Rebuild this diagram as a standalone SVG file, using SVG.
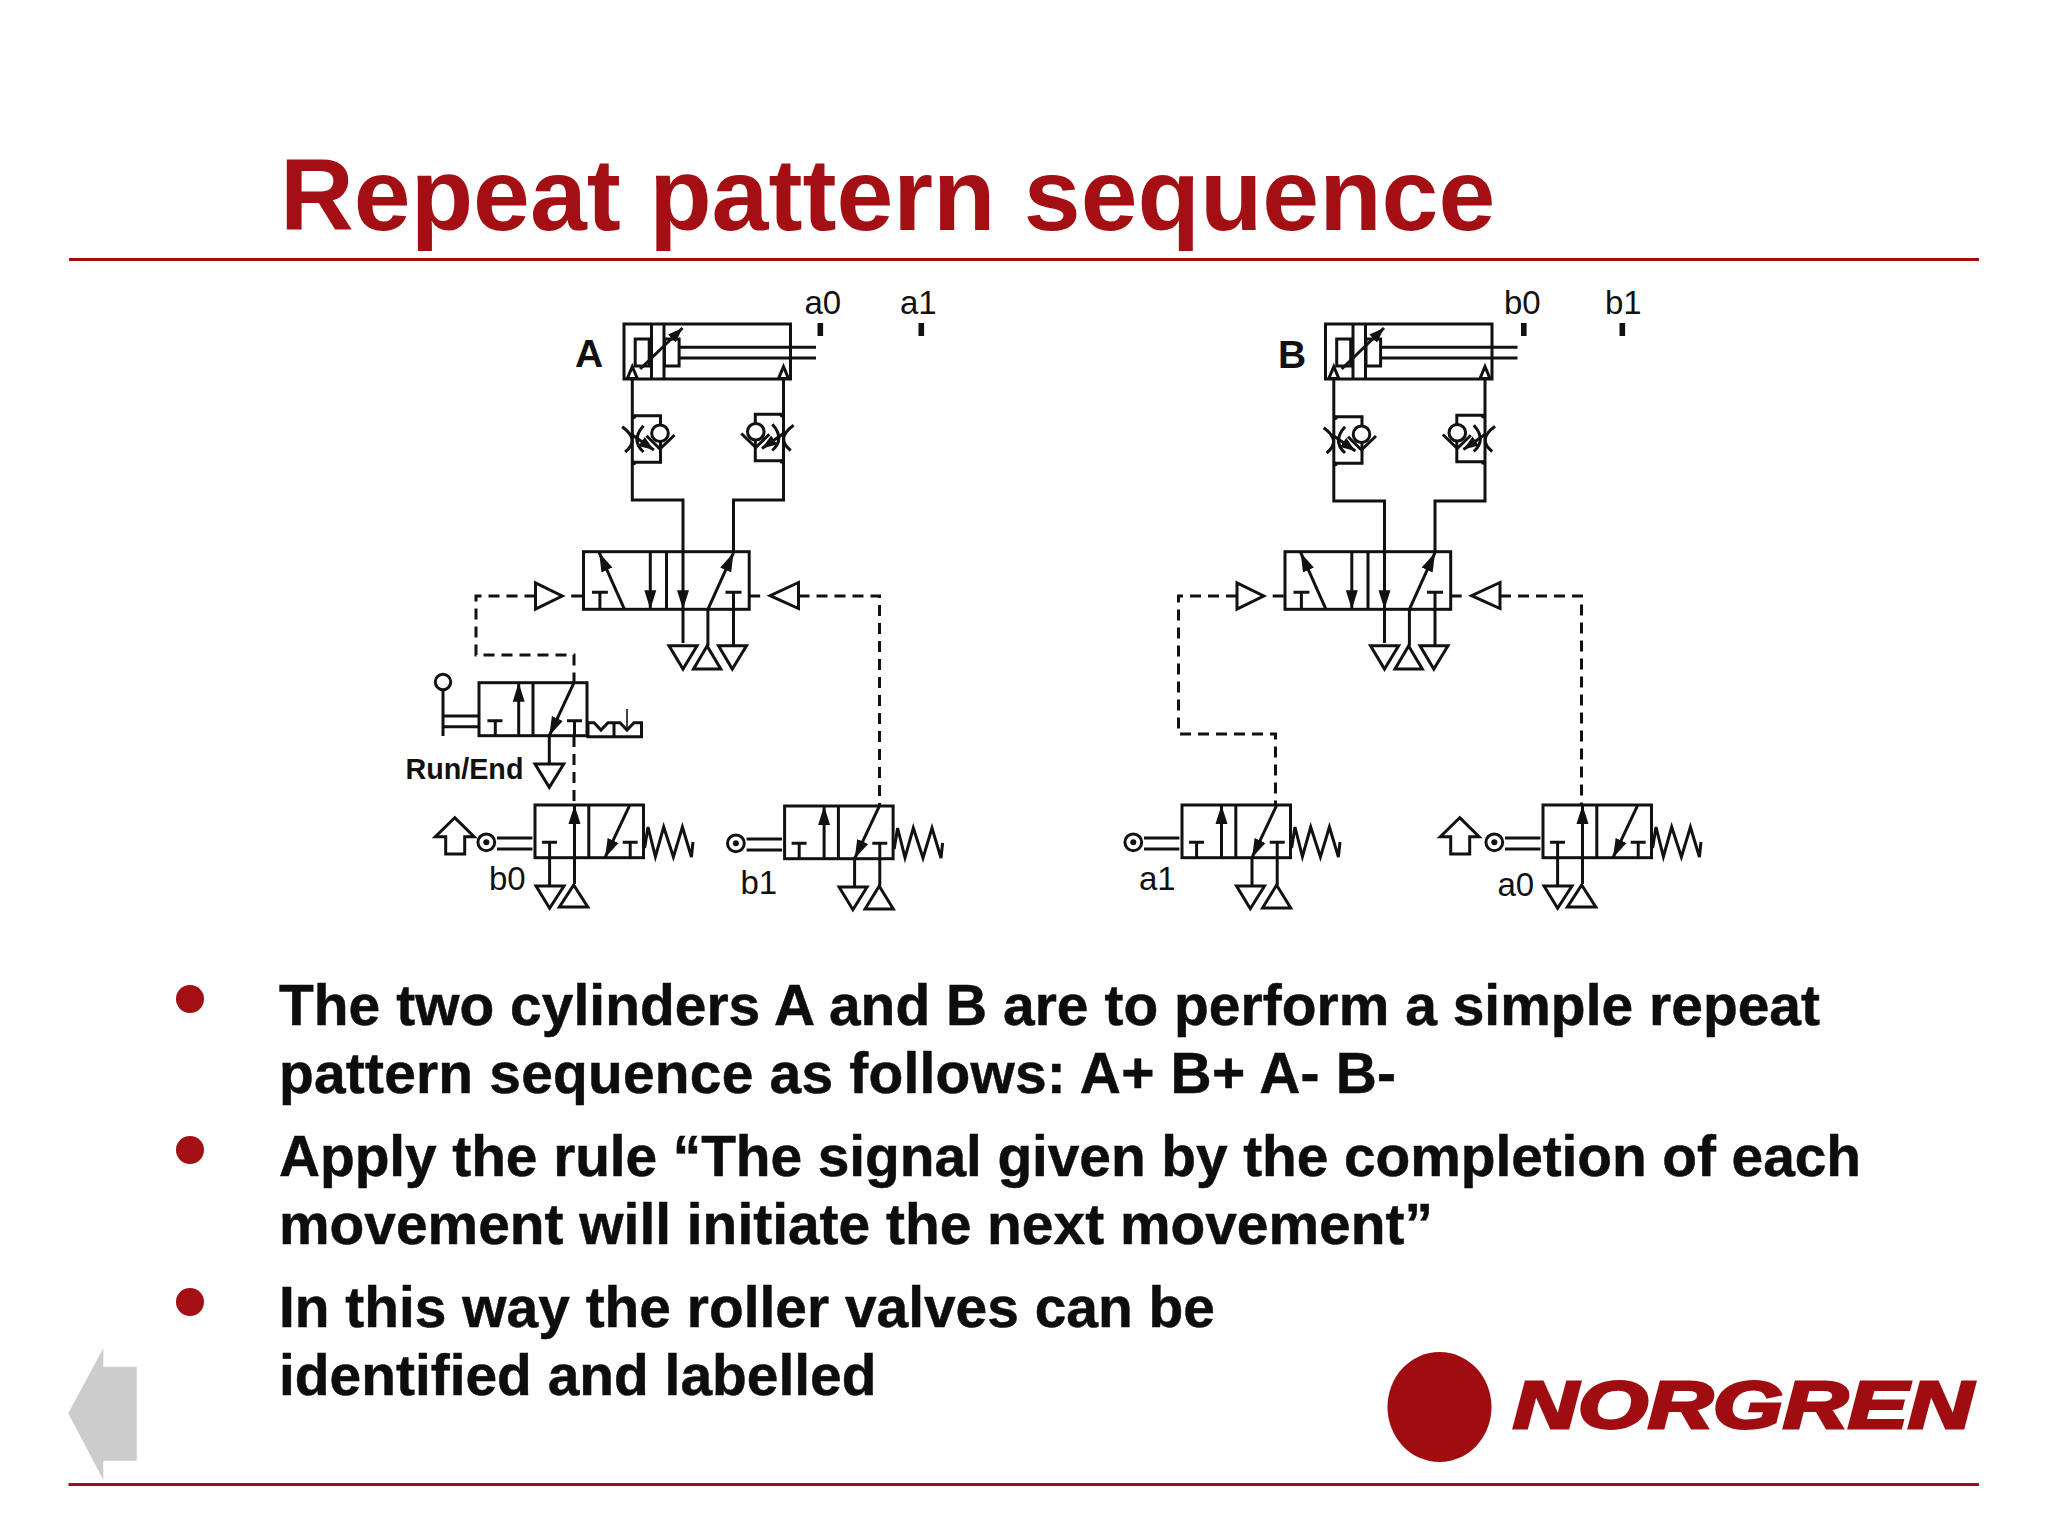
<svg xmlns="http://www.w3.org/2000/svg" width="2048" height="1536" viewBox="0 0 2048 1536">
<style>
.l{fill:none;stroke:#111;stroke-width:3}
.t{fill:#fff;stroke:#111;stroke-width:3}
.d{fill:none;stroke:#111;stroke-width:3;stroke-dasharray:11 7}
.k{fill:#111;stroke:none}
.a{stroke:#111;stroke-width:3;fill:none;marker-end:url(#ah)}
.s{stroke:#111;stroke-width:3;fill:none;marker-end:url(#as)}
.r{stroke:#a30f12;stroke-width:3;fill:none}
.title{font-family:"Liberation Sans",Arial,sans-serif;font-weight:700;font-size:102.2px;fill:#a30f12}
.body{font-family:"Liberation Sans",Arial,sans-serif;font-weight:700;font-size:56.9px;fill:#0d0d0d;stroke:#0d0d0d;stroke-width:.5}
.lab{font-family:"Liberation Sans",Arial,sans-serif;font-size:33px;fill:#111}
.big{font-family:"Liberation Sans",Arial,sans-serif;font-weight:700;font-size:39px;fill:#111}
.run{font-family:"Liberation Sans",Arial,sans-serif;font-weight:700;font-size:28.7px;fill:#111}
.logo{font-family:"Liberation Sans",Arial,sans-serif;font-weight:700;font-style:italic;font-size:66px;fill:#a00d10;stroke:#a00d10;stroke-width:3}
</style>
<defs>
<marker id="ah" markerUnits="userSpaceOnUse" markerWidth="19" markerHeight="14" refX="19" refY="7" orient="auto"><path d="M0 1L19 7L0 13Z" fill="#111"/></marker>
<marker id="as" markerUnits="userSpaceOnUse" markerWidth="15" markerHeight="12" refX="15" refY="6" orient="auto"><path d="M0 .5L15 6L0 11.5Z" fill="#111"/></marker>
<g id="cyl">
<rect class="l" x="625.5" y="324" width="166.5" height="55"/>
<path class="l" d="M653 324V379M665.5 324V379"/>
<rect class="l" x="636.7" y="339" width="14" height="27"/>
<rect class="l" x="666" y="339" width="14.6" height="27"/>
<path class="l" d="M680.6 347.3H817.5M680.6 358H817.5"/>
<path class="s" d="M641.7 369L684 328"/>
<path class="t" d="M633.8 366.7L628.8 378.5H638.8Z"/>
<path class="t" d="M785 366.7L780 378.5H790Z"/>
</g>
<g id="flow">
<path class="l" d="M634.5 415.7H662V462.3H634.5"/>
<circle class="k" cx="635.5" cy="416.7" r="2.2"/><circle class="k" cx="635.5" cy="463" r="2.2"/>
<circle class="t" cx="661.5" cy="433.3" r="8.3"/>
<path class="l" d="M648 435.7L661.5 449L676 435"/>
<path class="l" d="M623.7 426.7Q642 440 626.6 452M645 425.7Q632 440 645 452"/>
<path class="s" d="M633.8 435L655.4 450"/>
</g>
<g id="main">
<rect class="l" x="585" y="551.7" width="165.7" height="57.6"/>
<path class="l" d="M668 551.7V609.3M601.4 609.3V592.3M593.5 592.3H609.4M735 645V592.3M727 592.3H743M709.4 646V609.3"/>
<path class="a" d="M626 609.3L600.7 552.7"/>
<path class="a" d="M651.8 552.7V609.3"/>
<path class="a" d="M684.5 552V609.3"/>
<path class="l" d="M684.5 609V643"/>
<path class="a" d="M709.4 609.3L735 552.7"/>
<path class="t" d="M670.5 645.7H698.6L684.5 669Z"/>
<path class="t" d="M695 669H722.3L708.6 646Z"/>
<path class="t" d="M720 645.7H748L733.8 669Z"/>
<path class="t" d="M537 583V609L563.7 596Z"/>
<path class="t" d="M800 582.5V608.5L771.6 595.7Z"/>
</g>
<g id="base">
<rect class="l" width="108.5" height="52.7"/>
<path class="l" d="M53.8 0V52.7M95.2 52.7V37.3M87.7 37.3H102.7"/>
<path class="a" d="M94.5 .7L70 52.7"/>
<circle class="l" cx="-48.7" cy="37.3" r="8.4"/><circle class="k" cx="-48.7" cy="37.3" r="3"/>
<path class="l" d="M-38 33H-2.6M-38 44H-2.6"/>
<path class="l" d="M109.6 43L113 22L120.4 51.7L128.7 22L138.4 52L147.4 22L156.4 52L158 37"/>
</g>
<g id="v1">
<use href="#base"/>
<path class="l" d="M14.6 81V37.3M7 37.3H22"/>
<path class="a" d="M39.5 79V0"/>
<path class="t" d="M1 81H29L14.6 103.3Z"/>
<path class="t" d="M24.4 102H52.8L38.7 80Z"/>
</g>
<g id="v2">
<use href="#base"/>
<path class="l" d="M14.6 52.7V37.3M7 37.3H22"/>
<path class="a" d="M39.5 52.7V0"/>
<path class="l" d="M70 52.7V81M95.2 52.7V80"/>
<path class="t" d="M54.5 81H82.5L68.3 103.7Z"/>
<path class="t" d="M80.5 103H108.7L94.6 80Z"/>
</g>
<path id="cam" class="l" d="M-80.3 12.7L-99.7 31.7H-89.3V49H-70.3V31.7H-60.9Z"/>
</defs>
<rect width="2048" height="1536" fill="#fff"/>
<g id="title"><text class="title" x="280" y="230">Repeat pattern sequence</text></g>
<g id="rules">
<path class="r" d="M69 259.5H1979"/>
<path class="r" d="M68.5 1484.5H1979"/>
</g>
<g id="connectors">
<path class="l" d="M632.3 379V500H683V551.7M783.5 379V500H733.5V551.7"/>
<path class="d" d="M571.2 596H583.5M749.2 596H761.5M798.5 596H879.5V806M535.5 596H476V655H574V683M574 736V805"/>
<path class="l" d="M1333.8 379V501H1384.5V551.7M1485 379V501H1435V551.7"/>
<path class="d" d="M1272.7 596H1285M1450.7 596H1463M1500 596H1581.5V805M1237 596H1178.5V734H1275.5V805"/>
</g>
<g id="cylinder-a"><use href="#cyl" transform="translate(-1.5,0)"/><text class="big" x="575" y="367">A</text>
<text class="lab" x="804.5" y="314">a0</text><text class="lab" x="900" y="314">a1</text>
<rect class="k" x="817.5" y="323" width="5.6" height="13"/><rect class="k" x="918.5" y="323" width="5.6" height="13"/></g>
<g id="flow-a1"><use href="#flow" transform="translate(-1.5,0)"/></g>
<g id="flow-a2"><use href="#flow" transform="translate(1417.3,-1.5) scale(-1,1)"/></g>
<g id="valve-a"><use href="#main" transform="translate(-1.5,0)"/></g>
<g id="run-valve">
<rect class="l" x="479" y="682.7" width="108" height="53"/>
<path class="l" d="M533 682.7V735.7M495.3 735.7V720.7M487.4 720.7H502.5M574.5 735.7V720.7M567 720.7H582M549.3 735.7V764"/>
<path class="a" d="M518.7 735.7V682.7"/>
<path class="a" d="M574 682.7L549.3 735.7"/>
<path class="t" d="M535 764H563.7L549.3 787.3Z"/>
<circle class="l" cx="443" cy="682" r="7.7"/>
<path class="l" d="M443 690V736M443 716H479M443 726.7H479"/>
<path class="l" d="M588 722.7H594L601 730L608 722.7H620L627 730L634 722.7H641.5V736.7H588ZM614 722.7V736.7"/>
<path fill="none" stroke="#111" stroke-width="1.6" d="M627 709V730"/>
<text class="run" x="405.5" y="779">Run/End</text>
</g>
<g id="valve-b0"><use href="#v1" transform="translate(535,805)"/><use href="#cam" transform="translate(535,805)"/><text class="lab" x="489" y="890">b0</text></g>
<g id="valve-b1"><use href="#v2" transform="translate(784.6,806)"/><text class="lab" x="740.5" y="894">b1</text></g>
<g id="cylinder-b"><use href="#cyl" transform="translate(700,0)"/><text class="big" x="1278" y="368">B</text>
<text class="lab" x="1504" y="314">b0</text><text class="lab" x="1605" y="314">b1</text>
<rect class="k" x="1521" y="323" width="5.6" height="13"/><rect class="k" x="1619.5" y="323" width="5.6" height="13"/></g>
<g id="flow-b1"><use href="#flow" transform="translate(700,1)"/></g>
<g id="flow-b2"><use href="#flow" transform="translate(2118.8,-.5) scale(-1,1)"/></g>
<g id="valve-b"><use href="#main" transform="translate(700,0)"/></g>
<g id="valve-a1"><use href="#v2" transform="translate(1182,805)"/><text class="lab" x="1139" y="890">a1</text></g>
<g id="valve-a0"><use href="#v1" transform="translate(1543,805)"/><use href="#cam" transform="translate(1540,805)"/><text class="lab" x="1497.5" y="896">a0</text></g>
<g id="bullets">
<ellipse cx="190" cy="999" rx="14" ry="14" fill="#a30f12"/>
<ellipse cx="190" cy="1150" rx="14" ry="14" fill="#a30f12"/>
<ellipse cx="190" cy="1302" rx="14" ry="14" fill="#a30f12"/>
</g>
<g id="body">
<text class="body" x="279" y="1025" textLength="1541">The two cylinders A and B are to perform a simple repeat</text>
<text class="body" x="279" y="1093" textLength="1117">pattern sequence as follows: A+ B+ A- B-</text>
<text class="body" x="279" y="1176" textLength="1582">Apply the rule “The signal given by the completion of each</text>
<text class="body" x="279" y="1244">movement will initiate the next movement”</text>
<text class="body" x="279" y="1327">In this way the roller valves can be</text>
<text class="body" x="279" y="1395">identified and labelled</text>
</g>
<g id="back-arrow"><path fill="#ccc" d="M68.3 1413.3L103.3 1348.3V1366.7H136.7V1460.7H103.3V1480Z"/></g>
<g id="logo">
<ellipse cx="1439.5" cy="1407" rx="52" ry="55" fill="#a00d10"/>
<text class="logo" x="1513" y="1428" textLength="460" lengthAdjust="spacingAndGlyphs">NORGREN</text>
</g>
</svg>
